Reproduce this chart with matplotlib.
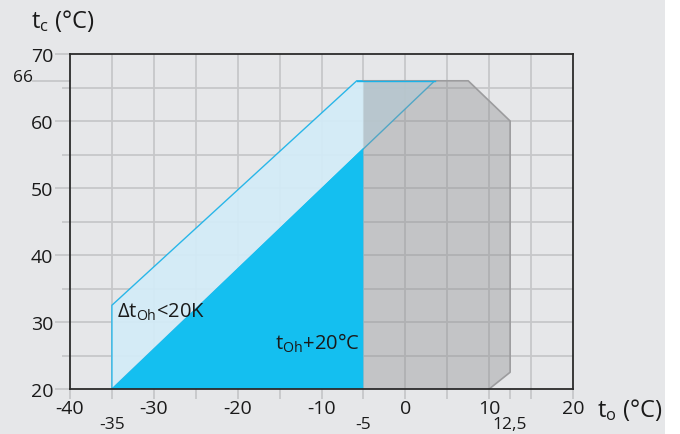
import matplotlib
matplotlib.use("Agg")
import matplotlib.pyplot as plt
from matplotlib.patches import Polygon, Rectangle
import matplotlib.transforms as mtransforms

plt.rcParams['font.family'] = ['Open Sans', 'DejaVu Sans']
plt.rcParams['mathtext.default'] = 'regular'

# envelope outlines (t_o, t_c)
light_x = [-35, -35, -5.8, 3.5]
light_y = [20, 32.5, 66, 66]
dark_x = [-35, -5, -5]
dark_y = [20, 56, 20]
gray_x = [-5, -5, 7.5, 12.5, 12.5, 10]
gray_y = [20, 66, 66, 60, 22.5, 20]

x_major = [-40, -30, -20, -10, 0, 10, 20]
x_minor = [-35, -25, -15, -5, 5, 12.5, 15]
y_major = [20, 30, 40, 50, 60, 70]
y_minor = [25, 35, 45, 55, 65]
x_grid = [-35, -30, -25, -20, -15, -10, -5, 0, 5, 10, 15]
y_grid = [25, 30, 35, 40, 45, 50, 55, 60, 65]
x_extra = {-35: '-35', -5: '-5', 12.5: '12,5'}
y_extra = {66: '66'}

bg = '#e6e7e9'
grid_c = '#c6c7c9'
txt_c = '#1a1a1a'

fig = plt.figure(figsize=(6.8, 4.35), dpi=100, facecolor=bg)
fig.add_artist(Rectangle((665 / 680, 0), 1 - 665 / 680, 1, transform=fig.transFigure,
                         facecolor='white', edgecolor='none'))
ax = fig.add_axes([70 / 680, 1 - 390 / 435, 503 / 680, 335 / 435])
ax.set_facecolor(bg)
ax.set_xlim(-40, 20)
ax.set_ylim(20, 70)

for v in x_grid:
    ax.axvline(v, color=grid_c, lw=1.3, zorder=0)
for v in y_grid:
    ax.axhline(v, color=grid_c, lw=1.3, zorder=0)

ax.set_xticks(x_major)
ax.set_xticks(x_minor, minor=True)
ax.set_yticks(y_major)
ax.set_yticks(y_minor, minor=True)
ax.set_xticklabels([str(v) for v in x_major])
ax.set_yticklabels([str(v) for v in y_major])
ax.tick_params(axis='x', which='both', length=7, color=grid_c, width=1.3,
               labelsize=14, pad=0, labelcolor=txt_c)
ax.tick_params(axis='y', which='major', length=11, color=grid_c, width=1.3,
               labelsize=14, pad=1, labelcolor=txt_c)
ax.tick_params(axis='y', which='minor', length=6, color=grid_c, width=1.3)
for sp in ax.spines.values():
    sp.set_color('#2b2b2b')
    sp.set_linewidth(1.3)
    sp.set_zorder(5)

ax.add_patch(Polygon(list(zip(light_x, light_y)), closed=True, facecolor='#d3ecf8',
                     edgecolor='#1ab2e8', lw=1.0, alpha=0.92, zorder=2))
ax.add_patch(Polygon(list(zip(dark_x, dark_y)), closed=True, facecolor='#14bff0',
                     edgecolor='none', zorder=3))
ax.add_patch(Polygon(list(zip(gray_x, gray_y)), closed=True, facecolor='#8f9092',
                     edgecolor='none', alpha=0.4, zorder=3))
ax.plot(gray_x[1:], gray_y[1:], color='#9c9c9e', lw=1.2, zorder=3)
ax.plot(light_x[2:], light_y[2:], color='#1ab2e8', lw=1.0, zorder=4)

# extra ticks with lower labels
trans_x = mtransforms.blended_transform_factory(ax.transData, ax.transAxes)
for xv, lab in x_extra.items():
    ax.text(xv, -0.082, lab, transform=trans_x, ha='center', va='top', fontsize=12.5,
            color=txt_c, clip_on=False)

trans_y = mtransforms.blended_transform_factory(ax.transAxes, ax.transData)
for yv, lab in y_extra.items():
    ax.plot([-0.074, 0], [yv, yv], transform=trans_y, color=grid_c, lw=1.3, clip_on=False)
    ax.text(-0.074, yv + 0.6, lab, transform=trans_y, ha='right', va='center', fontsize=12.5,
            color=txt_c, clip_on=False)

ax.text(-34.4, 31.6, r'$\Delta t_{Oh}$<20K', fontsize=14.5, color=txt_c, va='center', zorder=6)
ax.text(-15.6, 27.0, r'$t_{Oh}$+20°C', fontsize=14.5, color=txt_c, va='center', zorder=6)

fig.text(31 / 680, 1 - 21 / 435, r'$t_c$ (°C)', fontsize=17, color=txt_c, va='center')
fig.text(597 / 680, 1 - 410 / 435, r'$t_o$ (°C)', fontsize=17, color=txt_c, va='center')

fig.savefig('out.png', dpi=100, facecolor=bg)
